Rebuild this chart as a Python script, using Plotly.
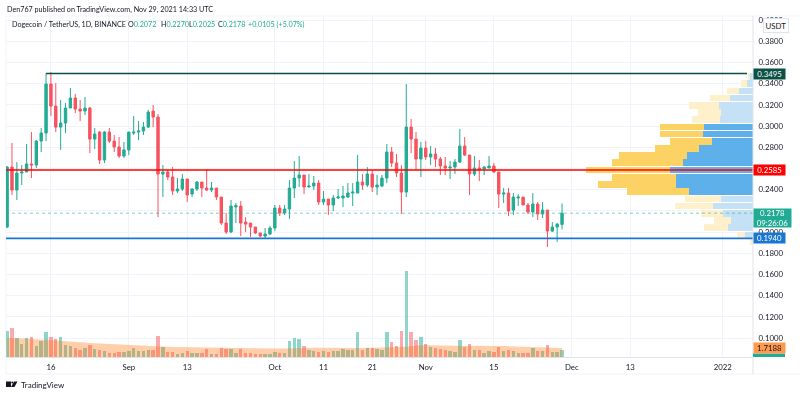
import pandas as pd
import plotly.graph_objects as go

start_date = "2021-08-07"
opens = [.2047,.2613,.2396,.2557,.2566,.2642,.2632,.2858,.2934,.3396,
 .3188,.2990,.3028,.3170,.3264,.3160,.3141,.3170,.2877,.2943,
 .2679,.2943,.2858,.2802,.2717,.2774,.2934,.2943,.2953,.2990,
 .3141,.3085,.2547,.2566,.2519,.2387,.2406,.2500,.2358,.2406,
 .2472,.2415,.2396,.2415,.2330,.2085,.2000,.2236,.2245,.2094,
 .2085,.2047,.1991,.1962,.1981,.2038,.2226,.2179,.2217,.2415,
 .2509,.2538,.2424,.2434,.2462,.2283,.2311,.2255,.2321,.2321,
 .2330,.2368,.2368,.2472,.2443,.2547,.2424,.2434,.2509,.2755,
 .2651,.2557,.2377,.2990,.2877,.2689,.2792,.2708,.2736,.2689,
 .2623,.2604,.2613,.2660,.2811,.2726,.2547,.2604,.2594,.2604,
 .2623,.2566,.2358,.2368,.2207,.2321,.2330,.2255,.2189,.2264,
 .2170,.2207,.2009,.2047,.2072]
highs = [.2623,.2840,.2660,.2632,.2830,.2943,.2868,.2981,.3500,.3509,
 .3405,.3245,.3217,.3358,.3302,.3245,.3274,.3179,.2981,.2953,
 .2953,.2981,.2915,.2896,.2849,.2943,.3094,.3047,.3038,.3151,
 .3198,.3113,.2632,.2585,.2613,.2509,.2547,.2500,.2415,.2481,
 .2472,.2594,.2472,.2415,.2330,.2179,.2302,.2274,.2292,.2141,
 .2085,.2047,.1991,.2038,.2057,.2255,.2255,.2255,.2491,.2670,
 .2717,.2538,.2547,.2528,.2491,.2387,.2311,.2349,.2406,.2434,
 .2462,.2462,.2726,.2547,.2613,.2585,.2538,.2538,.2830,.2802,
 .2736,.2632,.3396,.3066,.2943,.2849,.2858,.2811,.2792,.2708,
 .2708,.2670,.2689,.2972,.2896,.2726,.2717,.2679,.2623,.2717,
 .2651,.2566,.2415,.2415,.2368,.2358,.2330,.2274,.2368,.2283,
 .2283,.2207,.2094,.2085,.2270]
lows = [.2038,.2349,.2302,.2443,.2566,.2509,.2604,.2755,.2858,.3094,
 .2943,.2774,.2934,.3170,.3122,.3047,.3104,.2745,.2783,.2642,
 .2651,.2840,.2755,.2698,.2698,.2726,.2915,.2868,.2915,.2981,
 .2990,.2141,.2330,.2491,.2349,.2368,.2387,.2283,.2330,.2387,
 .2330,.2387,.2377,.2302,.2066,.1981,.1991,.2085,.1962,.2000,
 .1953,.1981,.1953,.1943,.1972,.2009,.2151,.2160,.2123,.2321,
 .2424,.2358,.2424,.2396,.2255,.2255,.2160,.2198,.2311,.2236,
 .2321,.2245,.2368,.2396,.2424,.2377,.2349,.2424,.2462,.2613,
 .2519,.2170,.2330,.2745,.2585,.2519,.2679,.2632,.2613,.2538,
 .2538,.2500,.2547,.2651,.2717,.2349,.2528,.2481,.2538,.2604,
 .2557,.2226,.2274,.2151,.2160,.2245,.2255,.2170,.2141,.2113,
 .2132,.1859,.2000,.1906,.2025]
closes = [.2613,.2396,.2557,.2566,.2642,.2632,.2858,.2934,.3396,.3188,
 .2990,.3028,.3170,.3264,.3160,.3141,.3170,.2877,.2924,.2679,
 .2943,.2858,.2802,.2717,.2774,.2943,.2943,.2953,.2990,.3132,
 .3085,.2547,.2566,.2519,.2387,.2406,.2500,.2349,.2406,.2472,
 .2415,.2396,.2415,.2330,.2085,.2000,.2245,.2250,.2085,.2075,
 .2047,.1991,.1962,.1981,.2038,.2226,.2179,.2217,.2415,.2509,
 .2538,.2424,.2434,.2462,.2283,.2311,.2255,.2321,.2330,.2340,
 .2368,.2377,.2472,.2443,.2547,.2424,.2443,.2509,.2755,.2651,
 .2557,.2377,.2990,.2877,.2689,.2792,.2708,.2736,.2689,.2623,
 .2604,.2613,.2660,.2811,.2726,.2547,.2604,.2585,.2613,.2623,
 .2566,.2358,.2368,.2198,.2330,.2330,.2255,.2189,.2264,.2170,
 .2207,.2009,.2047,.2075,.2178]
volumes = [4.91,5.54,3.57,2.48,3.57,3.76,2.10,3.06,4.72,3.82,
 3.38,3.82,2.29,2.16,1.66,1.34,1.78,2.29,1.53,1.34,
 1.20,.82,.82,.96,1.01,1.20,1.72,1.20,1.15,1.34,
 1.34,4.01,1.91,.96,.96,.63,.82,1.15,.71,.71,
 .76,1.47,.57,.52,1.78,1.47,1.47,.82,1.47,.76,
 .82,.52,.52,.57,.57,1.01,.76,.71,3.15,3.63,
 3.50,2.16,1.39,1.20,1.01,1.20,1.01,1.09,1.20,1.53,
 1.28,1.28,4.72,1.39,1.72,1.72,1.59,1.39,4.72,2.92,
 2.16,5.02,16.37,4.78,3.30,3.76,2.48,1.91,1.66,1.53,
 1.39,1.20,1.01,3.30,1.91,2.54,1.39,1.28,.76,1.20,
 .90,1.97,1.09,1.39,1.15,.71,.76,.82,1.66,1.20,
 1.15,2.29,1.01,.90,1.39]
volume_ma = [3.63,3.63,3.59,3.53,3.50,3.44,3.40,3.34,3.34,3.29,
 3.21,3.11,3.02,2.92,2.87,2.81,2.75,2.69,2.64,2.58,
 2.52,2.46,2.41,2.35,2.29,2.23,2.18,2.14,2.10,2.06,
 2.02,2.01,1.99,1.95,1.91,1.89,1.87,1.85,1.83,1.81,
 1.80,1.80,1.78,1.76,1.76,1.74,1.72,1.72,1.70,1.68,
 1.66,1.64,1.64,1.62,1.62,1.62,1.62,1.64,1.68,1.72,
 1.76,1.80,1.80,1.78,1.76,1.74,1.72,1.72,1.70,1.70,
 1.70,1.70,1.72,1.72,1.74,1.74,1.76,1.76,1.78,1.81,
 1.87,1.91,1.97,2.10,2.20,2.29,2.29,2.25,2.22,2.18,
 2.14,2.10,2.06,2.06,2.08,2.10,2.14,2.16,2.16,2.14,
 2.12,2.10,2.08,2.06,2.02,2.01,1.97,1.95,1.93,1.91,
 1.87,1.83,1.80,1.76,1.72]

profile_prices = [.3468,.3400,.3332,.3264,.3196,.3128,.3060,.2992,.2924,.2856,.2788,.2721,
 .2653,.2585,.2517,.2449,.2381,.2313,.2245,.2177,.2109,.2041,.1973,.1905]
profile_up = [3.5,6,14.3,22.7,33.7,32,32.7,49,49.7,41,53.7,65.7,70,83.3,77,76.7,63.7,32.3,40.3,29.7,22,24.7,7.7,.5]
profile_down = [1,6,11.7,20,30,22.7,28.7,44.3,43,41.7,44.3,68,70.7,83.3,63.7,78.7,62,35.3,37.3,22,16.7,24.7,8.3,2.5]
profile_in_value_area = [False]*7 + [True]*10 + [False]*7

price_ticks = [.10,.12,.14,.16,.18,.20,.22,.24,.26,.28,.30,.32,.34,.36,.38,.40]
price_labels = ["0.1000","0.1200","0.1400","0.1600","0.1800","0.2000","","0.2400",
                "","0.2800","0.3000","0.3200","0.3400","0.3600","0.3800","0.4000"]
date_ticks = ["2021-08-16","2021-09-01","2021-09-13","2021-10-01","2021-10-11","2021-10-21",
              "2021-11-01","2021-11-15","2021-12-01","2021-12-13","2022-01-01"]
date_labels = ["16","Sep","13","Oct","11","21","Nov","15","Dec","13","2022"]

resistance = 0.3495
pivot = 0.2585
support = 0.1940
last_close = 0.2178
volume_ma_last = 1.7188
resistance_start = "2021-08-15"

UP, DOWN = "#22ab94", "#f7525f"
UP_SOFT, DOWN_SOFT = "rgba(34,171,148,0.5)", "rgba(247,82,95,0.5)"
FONT = "Lato"
TICK_SIZE = 7.8
HEAD_SIZE = 7.2
INK = "#131722"

dates = pd.date_range(start_date, periods=len(closes))
assert len(opens) == len(highs) == len(lows) == len(closes) == len(volumes) == len(volume_ma) == 115

fig = go.Figure()
fig.add_trace(go.Candlestick(
    x=dates, open=opens, high=highs, low=lows, close=closes,
    increasing=dict(line=dict(color=UP, width=1), fillcolor=UP),
    decreasing=dict(line=dict(color=DOWN, width=1), fillcolor=DOWN),
    whiskerwidth=0, showlegend=False, hoverinfo="skip"))
fig.add_trace(go.Bar(
    x=dates, y=volumes, yaxis="y2", xaxis="x",
    marker=dict(color=[UP_SOFT if c >= o else DOWN_SOFT for o, c in zip(opens, closes)], line_width=0),
    showlegend=False, hoverinfo="skip", width=3.4 * 86400000 / 4.875))
fig.add_trace(go.Scatter(
    x=dates, y=volume_ma, yaxis="y2", xaxis="x", mode="lines", line=dict(width=0, color="rgba(0,0,0,0)"),
    fill="tozeroy", fillcolor="rgba(255,109,0,0.33)", showlegend=False, hoverinfo="skip"))
fig.add_trace(go.Bar(
    y=profile_prices, x=profile_up, orientation="h", xaxis="x3", yaxis="y", width=0.0063,
    marker=dict(color=["#5eb0ea" if v else "#c5e1f6" for v in profile_in_value_area], line_width=0),
    showlegend=False, hoverinfo="skip"))
fig.add_trace(go.Bar(
    y=profile_prices, x=profile_down, orientation="h", xaxis="x3", yaxis="y", width=0.0063,
    marker=dict(color=["#fdd264" if v else "#fff0cc" for v in profile_in_value_area], line_width=0),
    showlegend=False, hoverinfo="skip"))

def hline(level, color, width, x0=None, dash=None):
    line = dict(color=color, width=width)
    if dash:
        line["dash"] = dash
    if x0 is None:
        fig.add_shape(type="line", xref="paper", yref="y", x0=0, x1=1, y0=level, y1=level, line=line, layer="above")
    else:
        fig.add_shape(type="line", xref="x", yref="y", x0=x0, x1=dates[-1] + pd.Timedelta(days=38),
                      y0=level, y1=level, line=line, layer="above")

hline(last_close, "rgba(34,171,148,0.55)", 1, dash="dot")
hline(pivot, "#ff0000", 1.6)
hline(support, "#1976d2", 1.6)
hline(resistance, "#0b5045", 1.6, x0=resistance_start)

def paper_box(x0, y0, x1, y1, **kw):
    fig.add_shape(type="rect", xref="paper", yref="paper",
                  x0=(x0 - 6) / 747, x1=(x1 - 6) / 747,
                  y0=(357 - y0) / 341, y1=(357 - y1) / 341, **kw)

# chart frame
for frame in [(6, 16, 6, 374), (6, 374, 800, 374), (6, 16, 800, 16)]:
    fig.add_shape(type="line", xref="paper", yref="paper",
                  x0=(frame[0] - 6) / 747, x1=(frame[2] - 6) / 747,
                  y0=(357 - frame[1]) / 341, y1=(357 - frame[3]) / 341,
                  line=dict(color="#f0f3fa", width=1), layer="below")
fig.add_shape(type="line", xref="paper", yref="paper", x0=1, x1=1, y0=(357 - 374) / 341, y1=1,
              line=dict(color="#e0e3eb", width=1), layer="above")

def label(level, text, bg, fg="#ffffff", yref="y", w=31, h=10):
    fig.add_annotation(xref="paper", yref=yref, x=1, y=level, xanchor="left", yanchor="middle", text=text,
                       showarrow=False, bgcolor=bg, width=w, height=h, borderpad=0, align="center",
                       font=dict(family=FONT, size=TICK_SIZE, color=fg))

label(resistance, "0.3495", "#0b5045")
label(pivot, "0.2585", "#ff0000")
label(support, "0.1940", "#1976d2")
fig.add_annotation(xref="paper", yref="y", x=1, y=last_close, xanchor="left", yanchor="top", yshift=5,
                   text="0.2178<br>09:26:06", showarrow=False, bgcolor=UP, width=37, height=18, borderpad=0,
                   align="center", font=dict(family=FONT, size=TICK_SIZE, color="#ffffff"))
label(volume_ma_last, "1.7188", "#ff9a4d", fg="#131722", yref="y2")
paper_box(753, 353.5, 785, 357, fillcolor=UP, line_width=0, layer="above")
fig.add_annotation(xref="paper", yref="paper", x=(763 - 6) / 747, y=(357 - 25.5) / 341, xanchor="left", yanchor="middle",
                   text="USDT", showarrow=False, bgcolor="#ffffff", bordercolor="#e0e3eb", borderwidth=1, borderpad=1.5,
                   font=dict(family=FONT, size=TICK_SIZE, color=INK))

def text_at(x, y, text, size=HEAD_SIZE, color=INK):
    fig.add_annotation(xref="paper", yref="paper", x=(x - 6) / 747, y=(357 - y) / 341, xanchor="left", yanchor="middle",
                       text=text, showarrow=False, borderpad=0, font=dict(family=FONT, size=size, color=color))

text_at(6, 9, "Den767 published on TradingView.com, Nov 29, 2021 14:33 UTC")
text_at(10.5, 25, "Dogecoin / TetherUS, 1D, BINANCE")
for x, letter, value in [(127, "O", "0.2072"), (160, "H", "0.2270"), (188, "L", "0.2025"), (217, "C", "0.2178")]:
    text_at(x, 25, f'{letter}<span style="color:{UP}">{value}</span>')
text_at(247, 25, "+0.0105 (+5.07%)", color=UP)
text_at(20, 384.5, "TradingView", size=8, color="#131722")
# logo
paper_box(6, 381.5, 11, 387, fillcolor="#131722", line_width=0, layer="above")
fig.add_shape(type="circle", xref="paper", yref="paper", x0=(11.3 - 6) / 747, x1=(13.3 - 6) / 747,
              y0=(357 - 381.5) / 341, y1=(357 - 383.5) / 341, fillcolor="#131722", line_width=0, layer="above")
fig.add_shape(type="path", xref="paper", yref="paper", layer="above", fillcolor="#131722", line_width=0,
              path="M %f %f L %f %f L %f %f L %f %f Z" % ((11 - 6) / 747, (357 - 387) / 341, (14 - 6) / 747, (357 - 381.5) / 341,
                                                          (17.5 - 6) / 747, (357 - 381.5) / 341, (14.5 - 6) / 747, (357 - 387) / 341))

fig.update_layout(
    width=800, height=395, margin=dict(l=6, r=47, t=16, b=38, pad=0),
    paper_bgcolor="#ffffff", plot_bgcolor="#ffffff", barmode="stack", bargap=0, showlegend=False,
    xaxis=dict(type="date", range=["2021-08-06 18:30", "2022-01-07 05:30"], rangeslider=dict(visible=False),
               tickmode="array", tickvals=date_ticks, ticktext=date_labels, showgrid=True, gridcolor="#f0f3fa",
               gridwidth=1, zeroline=False, showline=True, linecolor="#e0e3eb", linewidth=1,
               ticks="outside", ticklen=3, tickcolor="rgba(0,0,0,0)", tickangle=0,
               tickfont=dict(family=FONT, size=TICK_SIZE, color=INK)),
    xaxis3=dict(overlaying="x", range=[747, 0], visible=False, fixedrange=True),
    yaxis=dict(side="right", range=[0.0821, 0.4038], tickmode="array", tickvals=price_ticks, ticktext=price_labels,
               showgrid=True, gridcolor="#f0f3fa", gridwidth=1, zeroline=False, showline=False,
               ticks="outside", ticklen=3, tickcolor="rgba(0,0,0,0)",
               tickfont=dict(family=FONT, size=TICK_SIZE, color=INK)),
    yaxis2=dict(overlaying="y", range=[0, 65.1], visible=False, fixedrange=True),
)

fig.write_html("out.html", config=dict(displayModeBar=False),
               post_script="document.body.style.margin='0';document.body.style.overflow='hidden';"
                           "document.querySelectorAll('.main-svg').forEach(function(s){s.style.filter='blur(0.3px)';});")
